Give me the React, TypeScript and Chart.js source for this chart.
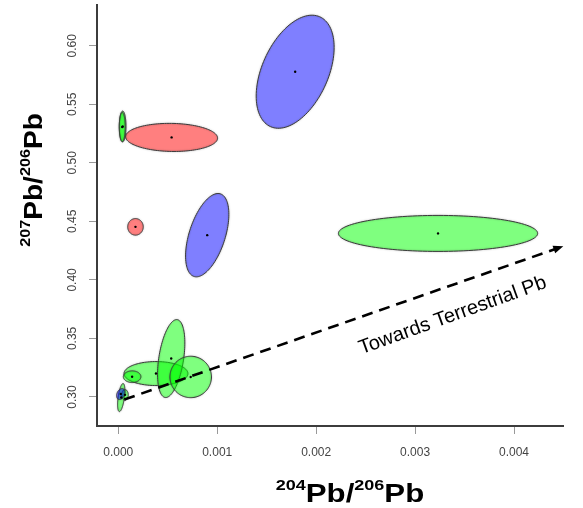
import React, { useEffect, useRef } from 'react';
import { Chart, registerables } from 'chart.js';

Chart.register(...registerables);

// ---- axis ticks / ranges ----
const X_TICKS = [0, 0.001, 0.002, 0.003, 0.004];
const Y_TICKS = [0.3, 0.35, 0.4, 0.45, 0.5, 0.55, 0.6];
const X_RANGE = [-0.000215, 0.004495];
const Y_RANGE = [0.2752, 0.6348];

// ---- ellipses (centre, half-extent in x and y, correlation, group) ----
const ELLIPSE_X = [0.000381, 0.000535, 0.000732, 0.00014, 0.00003, 0.000068, 0.0000253, 0.000174, 0.000539, 0.0000444, 0.00004, 0.000899, 0.001788, 0.003232];
const ELLIPSE_Y = [0.32, 0.3328, 0.3171, 0.3173, 0.2995, 0.3018, 0.3025, 0.4453, 0.5217, 0.5311, 0.5305, 0.4382, 0.5778, 0.4397];
const ELLIPSE_HALF_X = [0.000323, 0.000138, 0.00021, 0.0000889, 0.000037, 0.0000333, 0.0000424, 0.0000788, 0.000465, 0.0000337, 0.00003, 0.000219, 0.000394, 0.001007];
const ELLIPSE_HALF_Y = [0.01026, 0.0333, 0.0177, 0.005, 0.012, 0.0045, 0.0047, 0.0071, 0.012, 0.0131, 0.0125, 0.0356, 0.0483, 0.01538];
const ELLIPSE_RHO = [0, 0.4, 0, 0, 0.5, 0, 0.3, 0, -0.05, 0, 0, 0.5, 0.43, 0];
const ELLIPSE_GROUP = ['green', 'green', 'green', 'green', 'green', 'green', 'blue', 'red', 'red', 'green', 'green', 'blue', 'blue', 'green'];

// ---- trend arrow ----
const ARROW_X = [0.0000606, 0.004479];
const ARROW_Y = [0.2978, 0.4282];
const ARROW_LABEL = 'Towards Terrestrial Pb';
const ARROW_LABEL_AT = [0.00338, 0.3695];

// ---- axis titles (superscript, base) pairs ----
const X_TITLE: [string, string][] = [['204', 'Pb/'], ['206', 'Pb']];
const Y_TITLE: [string, string][] = [['207', 'Pb/'], ['206', 'Pb']];

const FILL: Record<string, string> = {
  green: 'rgba(0,255,0,0.5)',
  blue: 'rgba(0,0,255,0.5)',
  red: 'rgba(255,0,0,0.5)',
};

const FONT = '"Liberation Sans", Arial, Helvetica, sans-serif';

function drawSupTitle(ctx: CanvasRenderingContext2D, parts: [string, string][], mainSize: number, supSize: number, rise: number, stretch: number) {
  const mainFont = `bold ${mainSize}px ${FONT}`;
  const supFont = `bold ${supSize}px ${FONT}`;
  let total = 0;
  for (const [s, m] of parts) {
    ctx.font = supFont; total += ctx.measureText(s).width;
    ctx.font = mainFont; total += ctx.measureText(m).width;
  }
  ctx.scale(stretch, 1);
  let x = -total / 2;
  ctx.textBaseline = 'alphabetic';
  ctx.textAlign = 'left';
  ctx.fillStyle = '#000';
  for (const [s, m] of parts) {
    ctx.font = supFont; ctx.fillText(s, x, -rise); x += ctx.measureText(s).width;
    ctx.font = mainFont; ctx.fillText(m, x, 0); x += ctx.measureText(m).width;
  }
}

const ellipsePlugin = {
  id: 'ellipses',
  beforeDatasetsDraw(chart: any) {
    const { ctx, chartArea } = chart;
    const xs = chart.scales.x;
    const ys = chart.scales.y;
    ctx.save();
    ctx.beginPath();
    ctx.rect(chartArea.left, chartArea.top, chartArea.right - chartArea.left, chartArea.bottom - chartArea.top);
    ctx.clip();
    const STEPS = 120;
    for (let i = 0; i < ELLIPSE_X.length; i++) {
      const cx = ELLIPSE_X[i], cy = ELLIPSE_Y[i];
      const ex = ELLIPSE_HALF_X[i], ey = ELLIPSE_HALF_Y[i];
      const r = ELLIPSE_RHO[i];
      const s = Math.sqrt(1 - r * r);
      ctx.beginPath();
      for (let k = 0; k <= STEPS; k++) {
        const t = (k / STEPS) * Math.PI * 2;
        const px = xs.getPixelForValue(cx + ex * Math.cos(t));
        const py = ys.getPixelForValue(cy + ey * (r * Math.cos(t) + s * Math.sin(t)));
        if (k === 0) ctx.moveTo(px, py); else ctx.lineTo(px, py);
      }
      ctx.closePath();
      ctx.fillStyle = FILL[ELLIPSE_GROUP[i]];
      ctx.fill();
      ctx.save();
      ctx.shadowColor = 'rgba(0,0,0,0.35)';
      ctx.shadowBlur = 2;
      ctx.strokeStyle = '#3a3a3a';
      ctx.lineWidth = 1;
      ctx.stroke();
      ctx.restore();
    }
    ctx.restore();
  },
  afterDatasetsDraw(chart: any) {
    const { ctx } = chart;
    const xs = chart.scales.x;
    const ys = chart.scales.y;
    const x0 = xs.getPixelForValue(ARROW_X[0]), y0 = ys.getPixelForValue(ARROW_Y[0]);
    const x1 = xs.getPixelForValue(ARROW_X[1]), y1 = ys.getPixelForValue(ARROW_Y[1]);
    const ang = Math.atan2(y1 - y0, x1 - x0);
    ctx.save();
    ctx.translate(x1, y1);
    ctx.rotate(ang);
    ctx.beginPath();
    ctx.moveTo(2, 0);
    ctx.lineTo(-8, -4);
    ctx.lineTo(-8, 4);
    ctx.closePath();
    ctx.fillStyle = '#000';
    ctx.fill();
    ctx.restore();

    const lx = xs.getPixelForValue(ARROW_LABEL_AT[0]);
    const ly = ys.getPixelForValue(ARROW_LABEL_AT[1]);
    ctx.save();
    ctx.translate(lx, ly);
    ctx.rotate(ang - 0.01);
    ctx.font = `20px ${FONT}`;
    ctx.fillStyle = '#000';
    ctx.textAlign = 'center';
    ctx.textBaseline = 'middle';
    ctx.fillText(ARROW_LABEL, 0, 0);
    ctx.restore();
  },
  afterDraw(chart: any) {
    const { ctx } = chart;
    ctx.save();
    ctx.translate(350, 501.5);
    drawSupTitle(ctx, X_TITLE, 26, 15, 12, 1.2);
    ctx.restore();
    ctx.save();
    ctx.translate(42, 180);
    ctx.rotate(-Math.PI / 2);
    drawSupTitle(ctx, Y_TITLE, 26, 15, 12, 1.08);
    ctx.restore();
  },
};

export default function App() {
  const ref = useRef<HTMLCanvasElement>(null);
  useEffect(() => {
    if (!ref.current) return;
    const chart = new Chart(ref.current, {
      type: 'scatter',
      data: {
        datasets: [
          {
            type: 'line',
            data: ARROW_X.map((x, i) => ({ x, y: ARROW_Y[i] })),
            borderColor: '#000',
            borderWidth: 2.6,
            borderDash: [11, 7],
            pointRadius: 0,
            fill: false,
          } as any,
          {
            type: 'scatter',
            data: ELLIPSE_X.map((x, i) => ({ x, y: ELLIPSE_Y[i] })),
            backgroundColor: '#000',
            borderWidth: 0,
            pointRadius: 1.2,
          },
        ],
      },
      options: {
        animation: false,
        responsive: true,
        maintainAspectRatio: false,
        layout: { padding: { left: 0, top: 5, right: 20, bottom: 0 } },
        plugins: { legend: { display: false }, tooltip: { enabled: false } },
        scales: {
          x: {
            type: 'linear',
            min: X_RANGE[0],
            max: X_RANGE[1],
            afterBuildTicks: (s: any) => { s.ticks = X_TICKS.map((v) => ({ value: v })); },
            afterFit: (s: any) => { s.height = 82; s.paddingLeft = 0; s.paddingRight = 0; },
            grid: { display: true, drawOnChartArea: false, drawTicks: true, tickLength: 8, color: '#999', lineWidth: 1 },
            border: { display: true, color: '#3c3c3c', width: 2 },
            ticks: {
              padding: 11,
              color: '#444',
              font: { family: FONT, size: 12 },
              maxRotation: 0,
              minRotation: 0,
              callback: (v: any) => Number(v).toFixed(3),
            },
          },
          y: {
            type: 'linear',
            min: Y_RANGE[0],
            max: Y_RANGE[1],
            afterBuildTicks: (s: any) => { s.ticks = Y_TICKS.map((v) => ({ value: v })); },
            afterFit: (s: any) => { s.width = 97; s.paddingTop = 0; s.paddingBottom = 0; },
            grid: { display: true, drawOnChartArea: false, drawTicks: true, tickLength: 8, color: '#999', lineWidth: 1 },
            border: { display: true, color: '#3c3c3c', width: 2 },
            ticks: {
              padding: 5,
              color: '#444',
              crossAlign: 'center',
              minRotation: 90,
              maxRotation: 90,
              font: { family: FONT, size: 12 },
              callback: (v: any) => Number(v).toFixed(2),
            },
          },
        },
      },
      plugins: [ellipsePlugin],
    });
    return () => chart.destroy();
  }, []);
  return (
    <div style={{ position: 'absolute', left: 0, top: 0, width: 583, height: 508, background: '#fff' }}>
      <canvas ref={ref} />
    </div>
  );
}
